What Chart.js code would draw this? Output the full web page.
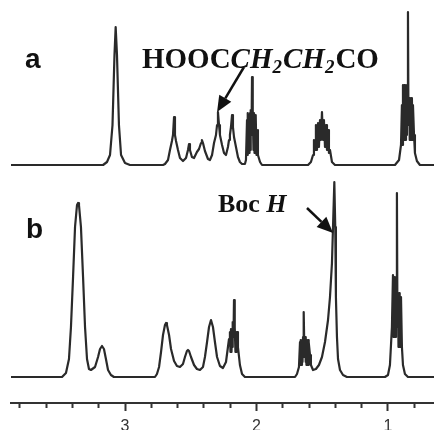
<!DOCTYPE html>
<html>
<head>
<meta charset="utf-8">
<script src="https://cdn.jsdelivr.net/npm/chart.js@4/dist/chart.umd.min.js"></script>
<style>
  html, body { margin: 0; padding: 0; background: #fff; }
  #wrap { width: 434px; height: 430px; }
</style>
</head>
<body>
<div id="wrap"><canvas id="c" width="434" height="430"></canvas></div>
<script>
// ---- Data (chemical shift in ppm, intensity in arbitrary units) ----
// Spectrum a
const ppmA = [
  3.867, 3.167, 3.137, 3.114, 3.095, 3.080, 3.071, 3.061, 3.046, 3.030, 3.000, 2.962, 2.711,
  2.696, 2.673, 2.658, 2.643, 2.635, 2.627, 2.620, 2.612, 2.597, 2.582, 2.559,
  2.536, 2.521, 2.513, 2.506, 2.491, 2.475,
  2.453, 2.437, 2.422, 2.415, 2.407, 2.392, 2.369, 2.354,
  2.338, 2.323, 2.308, 2.300, 2.293, 2.285, 2.278, 2.262, 2.247, 2.232,
  2.217, 2.209, 2.202, 2.194, 2.186, 2.179, 2.171, 2.156, 2.141, 2.126, 2.110, 2.088,
  2.080, 2.072, 2.068, 2.065, 2.061, 2.057, 2.053, 2.049, 2.046, 2.042, 2.038, 2.034,
  2.030, 2.027, 2.023, 2.019, 2.015, 2.011, 2.008, 2.004, 2.000, 1.996, 1.989, 1.973, 1.958,
  1.608, 1.586, 1.570, 1.563, 1.555, 1.548, 1.540, 1.532, 1.525, 1.517, 1.510, 1.502,
  1.494, 1.487, 1.479, 1.471, 1.464, 1.456, 1.449, 1.441, 1.426, 1.403,
  0.947, 0.916, 0.901, 0.894, 0.890, 0.886, 0.882, 0.878, 0.875, 0.871, 0.867, 0.863, 0.859, 0.856, 0.852,
  0.848, 0.844, 0.840, 0.836, 0.833, 0.829, 0.825, 0.821, 0.818, 0.814, 0.810, 0.802, 0.795, 0.780, 0.757, 0.650
];
const intA = [
  0, 0, 3, 10, 40, 110, 138, 110, 40, 10, 2, 0, 0,
  1, 5, 15, 24, 30, 48, 30, 24, 15, 7, 4,
  7, 15, 21, 15, 8, 7,
  13, 16, 22, 25, 22, 14, 6, 5,
  10, 22, 30, 40, 53, 40, 30, 20, 12, 10,
  18, 25, 30, 38, 50, 38, 28, 18, 8, 3, 1, 1,
  5, 45, 10, 52, 12, 50, 12, 52, 15, 55, 30, 88,
  30, 55, 15, 52, 12, 50, 12, 50, 10, 35, 10, 3, 0,
  0, 3, 10, 25, 15, 40, 15, 42, 18, 45, 25, 53,
  25, 45, 18, 40, 15, 35, 12, 15, 3, 0,
  0, 5, 20, 60, 20, 80, 25, 80, 25, 80, 25, 80, 30, 78, 40,
  153, 40, 67, 25, 67, 25, 67, 25, 67, 25, 60, 30, 12, 4, 0, 0
];
// Spectrum b
const ppmB = [
  3.867, 3.479, 3.449, 3.426, 3.411, 3.395, 3.380, 3.365, 3.357, 3.350, 3.335, 3.319, 3.304, 3.289, 3.274,
  3.259, 3.228, 3.205, 3.190, 3.175, 3.160, 3.145, 3.129, 3.107, 3.084,
  2.772, 2.757, 2.741, 2.726, 2.711, 2.696, 2.688, 2.681, 2.665, 2.650, 2.627, 2.605,
  2.582, 2.559, 2.544, 2.529, 2.521, 2.513, 2.498, 2.475, 2.453,
  2.430, 2.407, 2.392, 2.376, 2.361, 2.346, 2.331, 2.316, 2.300, 2.278,
  2.255, 2.232, 2.217, 2.209, 2.202, 2.198, 2.194, 2.190, 2.186, 2.183, 2.179, 2.175, 2.171,
  2.167, 2.164, 2.160, 2.156, 2.152, 2.148, 2.141, 2.126, 2.110, 2.088,
  1.707, 1.692, 1.677, 1.669, 1.665, 1.662, 1.658, 1.654, 1.650, 1.646, 1.643, 1.639,
  1.635, 1.631, 1.627, 1.624, 1.620, 1.616, 1.612, 1.608, 1.605, 1.601, 1.593, 1.586,
  1.570, 1.548, 1.525, 1.502, 1.479, 1.456, 1.441, 1.426, 1.418, 1.408, 1.401, 1.396, 1.388, 1.380, 1.365, 1.342, 1.312,
  1.023, 1.000, 0.985, 0.970, 0.962, 0.958, 0.954, 0.951, 0.947, 0.943, 0.939, 0.935, 0.932,
  0.928, 0.924, 0.920, 0.916, 0.913, 0.909, 0.905, 0.901, 0.894, 0.886, 0.871, 0.848, 0.650
];
const intB = [
  0, 0, 4, 18, 50, 100, 150, 172, 174, 172, 150, 100, 50, 18, 8,
  7, 10, 20, 28, 31, 28, 18, 7, 2, 0,
  0, 3, 10, 25, 42, 52, 54, 52, 42, 28, 16, 11,
  10, 13, 20, 26, 27, 26, 20, 12, 8,
  7, 10, 20, 35, 50, 57, 50, 35, 20, 11,
  9, 15, 30, 38, 45, 25, 48, 25, 48, 30, 55, 40, 77,
  40, 50, 25, 45, 25, 45, 30, 12, 3, 0,
  0, 3, 10, 35, 12, 37, 12, 37, 15, 40, 20, 65,
  20, 40, 15, 37, 12, 37, 12, 37, 12, 35, 22, 12,
  7, 8, 12, 20, 35, 57, 80, 114, 150, 195, 150, 80, 40, 18, 7, 2, 0,
  0, 2, 12, 50, 102, 40, 100, 40, 100, 40, 100, 60, 184,
  50, 84, 30, 84, 30, 82, 30, 80, 30, 12, 3, 0, 0
];
// Axis range (ppm) and tick step
const ppmRange = [0.65, 3.867];
const tickStep = 0.2;
// Vertical offset of trace a above trace b (stacked display)
const OFFSET_A = 212;

// Annotations (positions in data units)
const panelLabels = [
  { text: 'a', ppm: 3.760, y: 309 },
  { text: 'b', ppm: 3.753, y: 139 }
];
const assignLabels = [
  { parts: [['HOOC', 'bold', false], ['CH', 'italic bold', false], ['2', 'italic bold', true],
            ['CH', 'italic bold', false], ['2', 'italic bold', true], ['CO', 'bold', false]],
    ppm: 2.871, y: 309, size: 29 },
  { parts: [['Boc ', 'bold', false], ['H', 'italic bold', false]], ppm: 2.293, y: 165, size: 26 }
];
const arrows = [
  { from: [2.095, 310], to: [2.300, 265] },
  { from: [1.616, 169], to: [1.418, 144] }
];

const isInt = v => Math.abs(v - Math.round(v)) < 1e-6;
const ink = '#2a2a2a';

const annotate = {
  id: 'annotate',
  afterDraw(chart) {
    const ctx = chart.ctx, xs = chart.scales.x, ys = chart.scales.y;
    ctx.save();
    ctx.fillStyle = '#111';
    ctx.textBaseline = 'alphabetic';
    ctx.textAlign = 'left';
    panelLabels.forEach(l => {
      ctx.font = 'bold 28px "Liberation Sans", Arial, sans-serif';
      ctx.fillText(l.text, xs.getPixelForValue(l.ppm), ys.getPixelForValue(l.y));
    });
    assignLabels.forEach(l => {
      let px = xs.getPixelForValue(l.ppm);
      const py = ys.getPixelForValue(l.y);
      const size = l.size;
      l.parts.forEach(([t, st, sub]) => {
        const s = sub ? Math.round(size * 0.66) : size;
        ctx.font = st + ' ' + s + 'px "Liberation Serif", "Times New Roman", serif';
        ctx.fillText(t, px, py + (sub ? size * 0.18 : 0));
        px += ctx.measureText(t).width + (sub ? 1 : 0);
      });
    });
    ctx.strokeStyle = '#111';
    ctx.lineWidth = 2.5;
    arrows.forEach(a => {
      const x1 = xs.getPixelForValue(a.from[0]), y1 = ys.getPixelForValue(a.from[1]);
      const x2 = xs.getPixelForValue(a.to[0]), y2 = ys.getPixelForValue(a.to[1]);
      const dx = x2 - x1, dy = y2 - y1, len = Math.hypot(dx, dy);
      const ux = dx / len, uy = dy / len, hl = 16, hw = 7;
      const bx = x2 - ux * hl, by = y2 - uy * hl;
      ctx.beginPath(); ctx.moveTo(x1, y1); ctx.lineTo(bx, by); ctx.stroke();
      ctx.beginPath();
      ctx.moveTo(x2, y2);
      ctx.lineTo(bx - uy * hw, by + ux * hw);
      ctx.lineTo(bx + uy * hw, by - ux * hw);
      ctx.closePath(); ctx.fill();
    });
    ctx.restore();
  }
};

const mk = (p, v, off) => p.map((x, i) => ({ x: x, y: v[i] + off }));

new Chart(document.getElementById('c'), {
  type: 'line',
  data: {
    datasets: [
      { label: 'a', data: mk(ppmA, intA, OFFSET_A), borderColor: ink, borderWidth: 2.2,
        pointRadius: 0, tension: 0, fill: false, borderJoinStyle: 'round' },
      { label: 'b', data: mk(ppmB, intB, 0), borderColor: ink, borderWidth: 2.2,
        pointRadius: 0, tension: 0, fill: false, borderJoinStyle: 'round' }
    ]
  },
  options: {
    responsive: false,
    devicePixelRatio: 1,
    animation: false,
    layout: { padding: { left: 11, right: 0, top: 0, bottom: 0 } },
    plugins: { legend: { display: false }, tooltip: { enabled: false } },
    scales: {
      x: {
        type: 'linear',
        reverse: true,
        min: ppmRange[0],
        max: ppmRange[1],
        afterFit: s => { s.height = 27; },
        border: { display: true, color: '#333', width: 2 },
        grid: {
          drawOnChartArea: false,
          drawTicks: true,
          tickLength: 8,
          tickColor: '#333',
          tickWidth: 2,
          tickBorderDash: c => (c.tick && isInt(c.tick.value)) ? [] : [4, 40]
        },
        ticks: {
          stepSize: tickStep,
          includeBounds: false,
          autoSkip: false,
          maxRotation: 0,
          padding: 6,
          color: '#333',
          font: { family: '"Liberation Sans", Arial, sans-serif', size: 16 },
          callback: v => isInt(v) ? String(Math.round(v)) : ''
        }
      },
      y: { display: false, min: -26, max: 377 }
    }
  },
  plugins: [annotate]
});
</script>
</body>
</html>
